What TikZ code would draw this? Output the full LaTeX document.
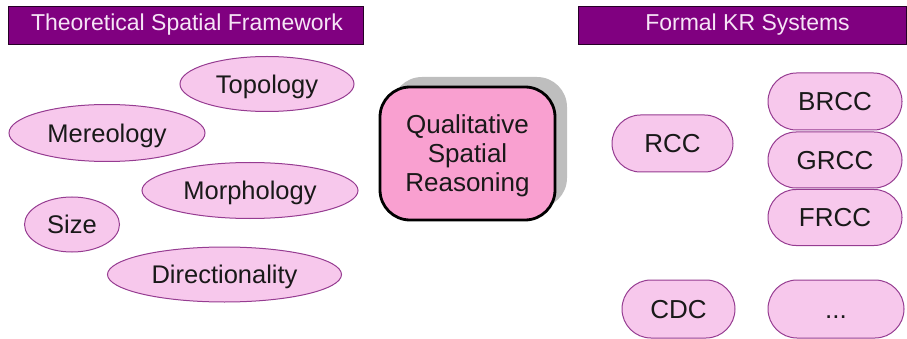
\documentclass[tikz,border=0pt]{standalone}
\usepackage{fontspec}
\setmainfont{Liberation Sans}
\usetikzlibrary{shapes.geometric,shapes.misc}
\definecolor{hdrfill}{RGB}{128,0,128}
\definecolor{hdrtext}{RGB}{246,228,246}
\definecolor{softpink}{RGB}{247,200,236}
\definecolor{softedge}{RGB}{150,60,145}
\definecolor{hotpink}{RGB}{249,160,208}
\definecolor{shadowgray}{RGB}{190,190,190}
\tikzset{
  header/.style={draw=black!70!hdrfill, line width=0.8pt, fill=hdrfill,
    text=hdrtext, font=\fontsize{23}{26}\selectfont, inner sep=0pt},
  topic/.style={ellipse, draw=softedge, line width=1pt, fill=softpink,
    inner sep=0pt, font=\fontsize{25.5}{30}\selectfont, text=black!90,
    text height=18.5pt, text depth=0pt},
  system/.style={rounded rectangle, draw=softedge, line width=1pt, fill=softpink,
    inner sep=0pt, font=\fontsize{26}{30}\selectfont, text=black!90,
    text height=18.5pt, text depth=0pt},
  core/.style={rectangle, rounded corners=30pt, draw=black, line width=2.8pt,
    fill=hotpink, inner sep=0pt, align=center,
    font=\fontsize{26}{29}\selectfont, text=black!90,
    text height=77pt, text depth=0pt}
}
\begin{document}
\begin{tikzpicture}[x=1pt,y=-1pt]
\useasboundingbox (0,0) rectangle (907,339);

% section headers
\node[header, minimum width=355pt, minimum height=38pt] (hdrL) at (185.5,25) {\hspace*{3pt}Theoretical Spatial Framework};
\node[header, minimum width=328pt, minimum height=38pt] (hdrR) at (742.5,25) {\hspace*{10pt}Formal KR Systems};

% spatial aspects
\node[topic, minimum width=174pt, minimum height=55pt] (topo) at (267,84) {Topology};
\node[topic, minimum width=196pt, minimum height=57pt] (mere) at (107,133) {Mereology};
\node[topic, minimum width=216pt, minimum height=56pt] (morph) at (250,190.5) {Morphology};
\node[topic, minimum width=95pt, minimum height=55pt] (size) at (72,224.5) {Size};
\node[topic, minimum width=234pt, minimum height=55pt] (dir) at (224.5,274.5) {Directionality};

% central box with its shadow
\fill[shadowgray, rounded corners=30pt] (392,77) rectangle (567,208);
\node[core, minimum width=175pt, minimum height=133pt] (qsr) at (467.5,153.5)
  {Qualitative\\Spatial\\Reasoning};

% formal systems
\node[system, minimum width=121pt, minimum height=57pt] (rcc) at (672.5,143.5) {RCC};
\node[system, minimum width=134pt, minimum height=57pt] (brcc) at (835,101.5) {BRCC};
\node[system, minimum width=134pt, minimum height=56pt] (grcc) at (835,160) {GRCC};
\node[system, minimum width=134pt, minimum height=56pt] (frcc) at (835,217.5) {FRCC};
\node[system, minimum width=113pt, minimum height=58pt] (cdc) at (678.5,309) {CDC};
\node[system, minimum width=136pt, minimum height=58pt] (more) at (836,309) {...};
\end{tikzpicture}
\end{document}
